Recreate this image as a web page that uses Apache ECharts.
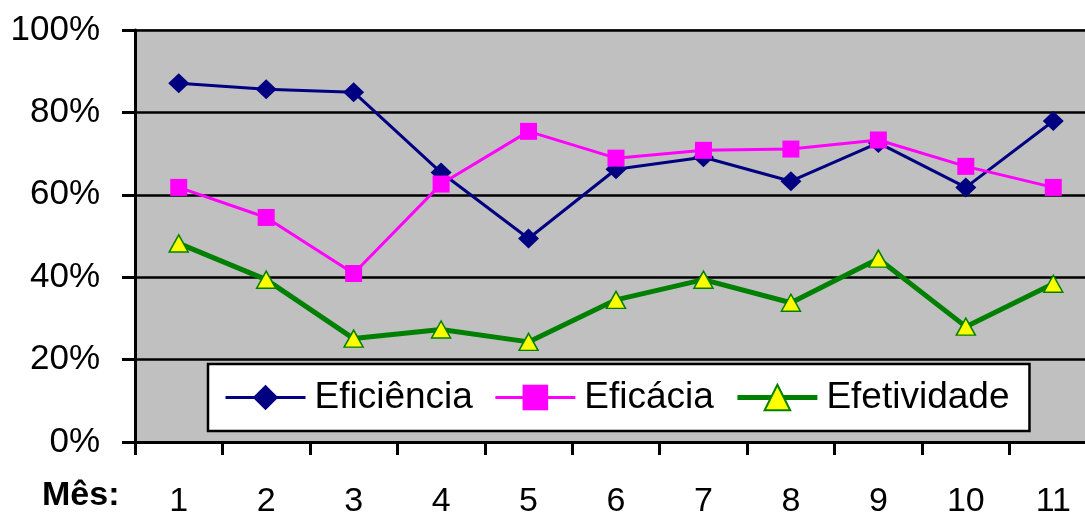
<!DOCTYPE html>
<html><head><meta charset="utf-8">
<script src="https://cdn.jsdelivr.net/npm/echarts@6/dist/echarts.min.js"></script>
<style>html,body{margin:0;padding:0;background:#fff;overflow:hidden;width:1085px;height:515px}#c{width:1100px;height:515px}</style>
</head><body><div id="c"></div>
<script>
const months = ['1','2','3','4','5','6','7','8','9','10','11'];
const eficiencia = [0.871, 0.856, 0.849, 0.654, 0.494, 0.662, 0.691, 0.633, 0.726, 0.618, 0.779];
const eficacia = [0.618, 0.545, 0.409, 0.626, 0.754, 0.689, 0.708, 0.711, 0.733, 0.669, 0.618];
const efetividade = [0.482, 0.394, 0.251, 0.273, 0.243, 0.345, 0.394, 0.338, 0.445, 0.280, 0.384];
const yTicks = [0, 0.2, 0.4, 0.6, 0.8, 1];
const FONT = '"Liberation Sans", Arial, sans-serif';

const chart = echarts.init(document.getElementById('c'), null, {renderer: 'canvas'});
chart.setOption({
  animation: false,
  textStyle: {fontFamily: FONT},
  grid: {left: 135, top: 30, right: 3, bottom: 73, outerBoundsMode: 'none', containLabel: false,
    show: true, backgroundColor: '#C0C0C0', borderColor: '#808080', borderWidth: 2},
  xAxis: {
    type: 'category', data: months, boundaryGap: true,
    axisLine: {lineStyle: {color: '#000', width: 3}},
    axisTick: {show: true, length: 13, lineStyle: {color: '#000', width: 3}, alignWithLabel: false},
    axisLabel: {color: '#000', fontSize: 34, fontFamily: FONT, margin: 43, interval: 0}
  },
  yAxis: {
    type: 'value', min: yTicks[0], max: yTicks[yTicks.length - 1], interval: 0.2,
    axisLine: {show: true, lineStyle: {color: '#000', width: 3}},
    axisTick: {show: true, length: 13, lineStyle: {color: '#000', width: 3}},
    splitLine: {show: true, lineStyle: {color: '#000', width: 2.5}},
    axisLabel: {color: '#000', fontSize: 35, fontFamily: FONT, margin: 35,
      formatter: v => Math.round(v * 100) + '%'}
  },
  legend: {
    left: 208, top: 364,
    backgroundColor: '#fff', borderColor: '#000', borderWidth: 2.5,
    padding: [15, 20, 15, 16],
    itemWidth: 80, itemHeight: 32, itemGap: 21,
    textStyle: {fontSize: 37, color: '#000', fontFamily: FONT, padding: [0, 0, 0, 4]},
    data: [
      {name: 'Eficiência', lineStyle: {width: 3}},
      {name: 'Eficácia', lineStyle: {width: 3}},
      {name: 'Efetividade', lineStyle: {width: 5}}
    ]
  },
  graphic: [{
    type: 'text', left: 42, top: 479,
    style: {text: 'Mês:', font: 'bold 34px ' + FONT, fill: '#000'}
  }],
  series: [
    {name: 'Eficiência', type: 'line', data: eficiencia, symbol: 'diamond', symbolSize: [21, 20],
      lineStyle: {color: '#000080', width: 3}, itemStyle: {color: '#000080'}, z: 3},
    {name: 'Eficácia', type: 'line', data: eficacia, symbol: 'rect', symbolSize: 17,
      lineStyle: {color: '#FF00FF', width: 3}, itemStyle: {color: '#FF00FF'}, z: 4},
    {name: 'Efetividade', type: 'line', data: efetividade, symbol: 'triangle', symbolSize: [19, 17],
      lineStyle: {color: '#008000', width: 5}, itemStyle: {color: '#FFFF00', borderColor: '#008000', borderWidth: 1.5}, z: 5}
  ]
});
</script></body></html>
